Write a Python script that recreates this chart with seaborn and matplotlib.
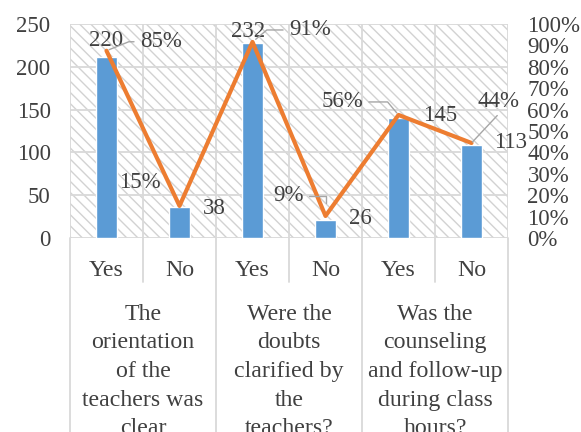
import numpy as np
import pandas as pd
import seaborn as sns
import matplotlib.pyplot as plt
from matplotlib.patches import Rectangle

# ---------------- data ----------------
groups = ["The\norientation\nof the\nteachers was\nclear",
          "Were the\ndoubts\nclarified by\nthe\nteachers?",
          "Was the\ncounseling\nand follow-up\nduring class\nhours?"]
answers = ["Yes", "No", "Yes", "No", "Yes", "No"]
counts = [211, 36, 228, 21, 140, 109]
count_labels = ["220", "38", "232", "26", "145", "113"]
shares = [87.5, 15.0, 91.6, 10.3, 57.5, 44.4]
share_labels = ["85%", "15%", "91%", "9%", "56%", "44%"]
left_ticks = [0, 50, 100, 150, 200, 250]
right_ticks = [0, 10, 20, 30, 40, 50, 60, 70, 80, 90, 100]

# ---------------- style ----------------
sns.set_theme(style="white")
plt.rcParams["font.family"] = ["Liberation Serif", "DejaVu Serif"]
plt.rcParams["hatch.color"] = "#D2D2D2"
plt.rcParams["hatch.linewidth"] = 1.0

TXT = "#404040"
GRID = "#D9D9D9"
LEAD = "#A6A6A6"
FS = 16.5
FS_CAT = 17.2

df = pd.DataFrame({"slot": [str(i) for i in range(len(counts))],
                   "count": counts, "share": shares})

W, H = 581, 432
fig = plt.figure(figsize=(W / 100, H / 100), dpi=100)
ax = fig.add_axes([70 / W, 1 - 238 / H, 438 / W, 214 / H])

# hatched plot-area background
ax.add_patch(Rectangle((0, 0), 1, 1, transform=ax.transAxes, facecolor="white",
                       edgecolor="#D2D2D2", hatch="\\\\\\", linewidth=0, zorder=0.1))

sns.barplot(data=df, x="slot", y="count", color="#5B9BD5", saturation=1,
            width=0.28, ax=ax, zorder=2)
ax.set_xlim(-0.5, len(counts) - 0.5)
ax.set_ylim(0, 250)
ax.set_yticks(left_ticks)
ax.set_xticks([])
ax.set_xticks(np.arange(-0.5, len(counts), 1), minor=True)
ax.set_axisbelow(True)
ax.grid(axis="y", which="major", color=GRID, lw=1.3)
ax.grid(axis="x", which="minor", color=GRID, lw=1.3)
ax.tick_params(axis="y", length=0, pad=14, labelsize=FS, labelcolor=TXT)
ax.tick_params(axis="x", which="both", length=0)
ax.set_xlabel("")
ax.set_ylabel("")
for s in ax.spines.values():
    s.set_visible(False)

ax2 = ax.twinx()
sns.lineplot(data=df, x="slot", y="share", color="#ED7D31", lw=3.0, sort=False,
             ax=ax2, zorder=3)
ax2.set_ylim(0, 100)
ax2.set_yticks(right_ticks)
ax2.set_yticklabels([f"{t}%" for t in right_ticks])
ax2.tick_params(axis="y", length=0, pad=14, labelsize=FS, labelcolor=TXT)
ax2.set_xlabel("")
ax2.set_ylabel("")
ax2.grid(False)
for s in ax2.spines.values():
    s.set_visible(False)
ax.set_xlim(-0.5, len(counts) - 0.5)

# ---------------- two-level category axis ----------------
xt = ax.get_xaxis_transform()
for b in np.arange(-0.5, len(counts), 1):
    major = (b + 0.5) % 2 == 0
    ax.plot([b, b], [0, -0.95 if major else -0.205], transform=xt,
            color=GRID, lw=1.3, clip_on=False)
for i, a in enumerate(answers):
    ax.text(i, -0.15, a, transform=xt, ha="center", va="center",
            fontsize=FS_CAT, color=TXT)
for g, lab in enumerate(groups):
    ax.text(2 * g + 0.5, -0.307, lab, transform=xt, ha="center", va="top",
            fontsize=FS_CAT, color=TXT, linespacing=1.48)

# ---------------- data labels ----------------
bar_off = [(0, 17), (34.5, -1), (-4.5, 11), (34.5, 2), (41.5, 3), (39.5, 2)]
for i, (lab, off) in enumerate(zip(count_labels, bar_off)):
    ax2.annotate(lab, xy=(i, counts[i]), xycoords=ax.transData, xytext=off,
                 textcoords="offset pixels", ha="center", va="center",
                 fontsize=FS, color=TXT, annotation_clip=False, zorder=5)

share_off = [(54.5, 9), (-39.5, 23), (57.5, 12), (-37.5, 20), (-56.5, 13), (26.5, 41)]
leaders = [dict(connectionstyle="angle,angleA=0,angleB=22,rad=0", shrinkB=2),
           None,
           dict(connectionstyle="angle,angleA=0,angleB=40,rad=0", shrinkB=3),
           dict(connectionstyle="angle,angleA=0,angleB=90,rad=0", shrinkB=9),
           dict(connectionstyle="angle,angleA=0,angleB=130,rad=0", shrinkB=2),
           dict(connectionstyle="arc3", relpos=(0.55, 0.0), shrinkA=3, shrinkB=1,
                patchA=None)]
for i, (lab, off, ld) in enumerate(zip(share_labels, share_off, leaders)):
    props = None
    if ld is not None:
        props = dict(arrowstyle="-", color=LEAD, lw=1.0)
        props.update(ld)
    ax2.annotate(lab, xy=(i, shares[i]), xytext=off, textcoords="offset pixels",
                 ha="center", va="center", fontsize=FS, color=TXT,
                 arrowprops=props, annotation_clip=False, zorder=5)

fig.savefig("out.png", dpi=100)
